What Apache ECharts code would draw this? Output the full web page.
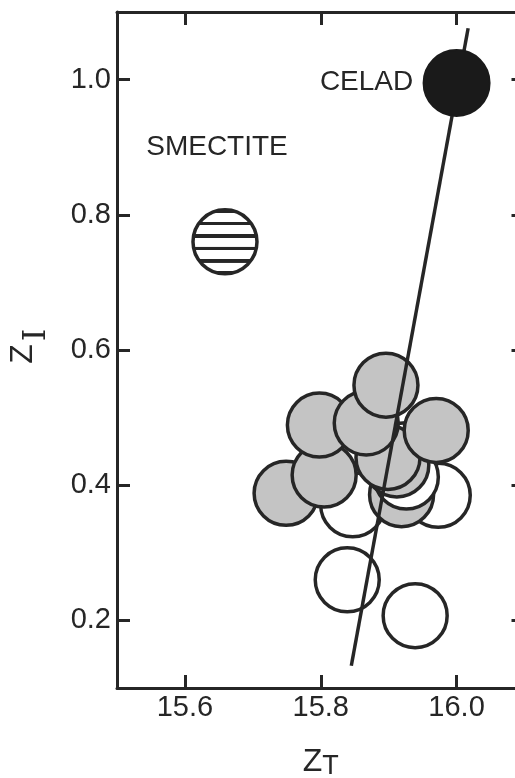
<!DOCTYPE html>
<html>
<head>
<meta charset="utf-8">
<script src="https://cdn.jsdelivr.net/npm/echarts@6/dist/echarts.min.js"></script>
<style>
html,body{margin:0;padding:0;background:#fff;}
#chart{width:515px;height:778px;}
</style>
</head>
<body>
<div id="chart"></div>
<script>
// ---- data ----
const xTicks = [15.6, 15.8, 16.0];
const yTicks = [0.2, 0.4, 0.6, 0.8, 1.0];

// sample points, listed in drawing order (later ones overlap earlier ones)
const sampleX = [15.839, 15.939, 15.847, 15.973, 15.919, 15.926, 15.926, 15.912, 15.749, 15.805, 15.899, 15.798, 15.867, 15.896, 15.970];
const sampleY = [0.260, 0.207, 0.371, 0.385, 0.386, 0.445, 0.412, 0.430, 0.388, 0.415, 0.441, 0.489, 0.492, 0.548, 0.481];
const sampleFill = ['open','open','open','open','stipple','open','open','stipple','stipple','stipple','stipple','stipple','stipple','stipple','stipple'];

const smectiteX = [15.659];
const smectiteY = [0.760];
const celadX = [16.0];
const celadY = [0.995];

const trendX = [16.017, 15.845];
const trendY = [1.076, 0.133];

// ---- styling ----
const ink = '#262626';
const stipple = '#c4c4c4';
const sans = 'Liberation Sans';
const symSize = 64;

// horizontal hatching for the smectite symbol (tile drawn at 10x, scaled back down;
// the symbol path itself is scaled by symbolSize/2, so that is undone too)
function stripeTile() {
  const c = document.createElement('canvas');
  c.width = 10; c.height = 124;
  const g = c.getContext('2d');
  g.fillStyle = '#ffffff'; g.fillRect(0, 0, 10, 124);
  g.fillStyle = ink; g.fillRect(0, 47, 10, 36);
  return c;
}
const hatchScale = 0.1 / (symSize / 2);

const chart = echarts.init(document.getElementById('chart'), null, {renderer: 'canvas'});

const tickStyle = {show: true, inside: true, length: 13, lineStyle: {color: ink, width: 3}};
const lineStyle = {show: true, onZero: false, lineStyle: {color: ink, width: 3}};

const option = {
  animation: false,
  backgroundColor: '#fff',
  grid: {left: 117, top: 12, width: 407.5, height: 676, containLabel: false, outerBoundsMode: 'none'},
  xAxis: [
    {
      type: 'value', min: 15.5, max: 16.1, position: 'bottom',
      axisLine: lineStyle,
      axisTick: Object.assign({customValues: xTicks}, tickStyle),
      axisLabel: {customValues: xTicks, formatter: v => v.toFixed(1), fontSize: 29, fontFamily: sans, color: ink, margin: 5},
      splitLine: {show: false},
      name: '{z|Z}{s|T}', nameLocation: 'middle', nameGap: 52,
      nameTextStyle: {
        rich: {
          z: {fontSize: 32, fontFamily: sans, color: ink, lineHeight: 34, verticalAlign: 'top'},
          s: {fontSize: 27, fontFamily: sans, color: ink, lineHeight: 27, padding: [26, 0, 0, 0], verticalAlign: 'bottom'}
        }
      }
    },
    {
      type: 'value', min: 15.5, max: 16.1, position: 'top',
      axisLine: lineStyle,
      axisTick: Object.assign({customValues: xTicks}, tickStyle),
      axisLabel: {show: false},
      splitLine: {show: false}
    }
  ],
  yAxis: [
    {
      type: 'value', min: 0.1, max: 1.1, position: 'left',
      axisLine: lineStyle,
      axisTick: Object.assign({customValues: yTicks}, tickStyle),
      axisLabel: {customValues: yTicks, formatter: v => v.toFixed(1), fontSize: 29, fontFamily: sans, color: ink, margin: 6},
      splitLine: {show: false}
    },
    {
      type: 'value', min: 0.1, max: 1.1, position: 'right',
      axisLine: lineStyle,
      axisTick: Object.assign({customValues: yTicks}, tickStyle),
      axisLabel: {show: false},
      splitLine: {show: false}
    }
  ],
  graphic: [
    {type: 'text', x: 23.5, y: 354, rotation: Math.PI / 2, silent: true,
     style: {text: 'Z', fontSize: 32, fontFamily: sans, fill: ink, align: 'center', verticalAlign: 'middle'}},
    {type: 'text', x: 37, y: 335, rotation: Math.PI / 2, silent: true,
     style: {text: 'I', fontSize: 32, fontFamily: 'DejaVu Serif', fill: ink, align: 'center', verticalAlign: 'middle'}}
  ],
  series: [
    {
      name: 'samples', type: 'scatter', xAxisIndex: 0, yAxisIndex: 0,
      symbol: 'circle', symbolSize: symSize, z: 2,
      itemStyle: {borderColor: ink, borderWidth: 3.5, opacity: 1},
      data: sampleX.map((x, i) => ({
        value: [x, sampleY[i]],
        itemStyle: {color: sampleFill[i] === 'stipple' ? stipple : '#ffffff'}
      })),
      emphasis: {disabled: true}
    },
    {
      name: 'SMECTITE', type: 'scatter', xAxisIndex: 0, yAxisIndex: 0,
      symbol: 'circle', symbolSize: symSize, z: 2,
      itemStyle: {
        color: {image: stripeTile(), repeat: 'repeat', scaleX: hatchScale, scaleY: hatchScale},
        borderColor: ink, borderWidth: 3.5, opacity: 1
      },
      label: {show: true, position: 'inside', offset: [-8, -95], formatter: 'SMECTITE', fontSize: 28, fontFamily: sans, color: ink},
      data: smectiteX.map((x, i) => [x, smectiteY[i]]),
      emphasis: {disabled: true}
    },
    {
      name: 'trend', type: 'line', xAxisIndex: 0, yAxisIndex: 0,
      symbol: 'none', z: 3,
      lineStyle: {color: ink, width: 3.5},
      data: trendX.map((x, i) => [x, trendY[i]]),
      emphasis: {disabled: true}
    },
    {
      name: 'CELAD', type: 'scatter', xAxisIndex: 0, yAxisIndex: 0,
      symbol: 'circle', symbolSize: 66, z: 4,
      itemStyle: {color: '#1a1a1a', borderColor: '#1a1a1a', borderWidth: 2, opacity: 1},
      label: {show: true, position: 'inside', offset: [-90, -1], formatter: 'CELAD', fontSize: 28, fontFamily: sans, color: ink},
      data: celadX.map((x, i) => [x, celadY[i]]),
      emphasis: {disabled: true}
    }
  ]
};
chart.setOption(option);
</script>
</body>
</html>
